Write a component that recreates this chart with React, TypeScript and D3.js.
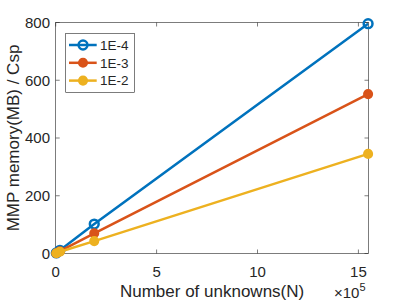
import React, { useRef, useEffect } from 'react';
import * as d3 from 'd3';

// number of unknowns N
const unknowns = [3000, 21000, 191000, 1548000];
// MMP memory (MB) / Csp per tolerance
const tol4 = [2, 11, 102, 796];
const tol3 = [1, 8, 70, 552];
const tol2 = [1, 6, 43, 345];

const seriesNames = ['1E-4', '1E-3', '1E-2'];
const seriesColors = ['#0072BD', '#D95319', '#EDB120'];
const xTicks = [0, 5e5, 10e5, 15e5];
const yTicks = [0, 200, 400, 600, 800];

const App = () => {
    const ref = useRef<SVGSVGElement>(null);

    useEffect(() => {
        const width = 407;
        const height = 305;
        const left = 55.7, right = 368.5, top = 22.5, bottom = 253.5;
        const axisColor = '#262626';
        const font = 'Liberation Sans, Arial, Helvetica, sans-serif';

        const x = d3.scaleLinear().domain([0, 15.5e5]).range([left, right]);
        const y = d3.scaleLinear().domain([0, 800]).range([bottom, top]);

        const svg = d3.select(ref.current)
            .attr('width', width)
            .attr('height', height)
            .style('font-family', font);

        svg.selectAll('*').remove();

        svg.append('rect').attr('width', width).attr('height', height).attr('fill', '#fff');

        // box
        svg.append('rect')
            .attr('x', left).attr('y', top)
            .attr('width', right - left).attr('height', bottom - top)
            .attr('fill', 'none').attr('stroke', axisColor).attr('stroke-width', 0.6);

        const tickLen = 4;
        const g = svg.append('g').attr('stroke', axisColor).attr('stroke-width', 0.6);
        xTicks.forEach(t => {
            g.append('line').attr('x1', x(t)).attr('x2', x(t)).attr('y1', bottom).attr('y2', bottom - tickLen);
            g.append('line').attr('x1', x(t)).attr('x2', x(t)).attr('y1', top).attr('y2', top + tickLen);
        });
        yTicks.forEach(t => {
            g.append('line').attr('x1', left).attr('x2', left + tickLen).attr('y1', y(t)).attr('y2', y(t));
            g.append('line').attr('x1', right).attr('x2', right - tickLen).attr('y1', y(t)).attr('y2', y(t));
        });

        svg.append('g')
            .selectAll('text')
            .data(xTicks)
            .join('text')
            .attr('x', d => x(d))
            .attr('y', 277)
            .attr('text-anchor', 'middle')
            .attr('font-size', 15)
            .attr('fill', axisColor)
            .text(d => d / 1e5);

        svg.append('g')
            .selectAll('text')
            .data(yTicks)
            .join('text')
            .attr('x', 50)
            .attr('y', d => y(d))
            .attr('dy', '0.36em')
            .attr('text-anchor', 'end')
            .attr('font-size', 15)
            .attr('fill', axisColor)
            .text(d => d);

        // exponent
        const exp = svg.append('text')
            .attr('x', 334)
            .attr('y', 298)
            .attr('font-size', 15)
            .attr('fill', axisColor);
        exp.append('tspan').text('\u00d710');
        exp.append('tspan').attr('font-size', 11).attr('dy', -7).text('5');

        svg.append('text')
            .attr('x', (left + right) / 2)
            .attr('y', 297)
            .attr('text-anchor', 'middle')
            .attr('font-size', 17)
            .attr('fill', axisColor)
            .text('Number of unknowns(N)');

        svg.append('text')
            .attr('transform', `translate(19,${(top + bottom) / 2}) rotate(-90)`)
            .attr('text-anchor', 'middle')
            .attr('font-size', 17)
            .attr('fill', axisColor)
            .text('MMP memory(MB) / Csp');

        const allSeries = [tol4, tol3, tol2];
        const line = d3.line<number>()
            .x((d, i) => x(unknowns[i]))
            .y(d => y(d));

        allSeries.forEach((vals, k) => {
            const c = seriesColors[k];
            svg.append('path')
                .datum(vals)
                .attr('d', line)
                .attr('fill', 'none')
                .attr('stroke', c)
                .attr('stroke-width', 2.5);
            svg.append('g')
                .selectAll('circle')
                .data(vals)
                .join('circle')
                .attr('cx', (d, i) => x(unknowns[i]))
                .attr('cy', d => y(d))
                .attr('r', k === 0 ? 4.4 : 3.8)
                .attr('fill', k === 0 ? 'none' : c)
                .attr('stroke', c)
                .attr('stroke-width', 2.5);
        });

        // legend
        const lg = svg.append('g');
        lg.append('rect')
            .attr('x', 65.7).attr('y', 33.3)
            .attr('width', 68.6).attr('height', 59)
            .attr('fill', '#fff').attr('stroke', axisColor).attr('stroke-width', 0.6);
        seriesNames.forEach((name, k) => {
            const ly = 45 + k * 17.8;
            const c = seriesColors[k];
            lg.append('line').attr('x1', 69).attr('x2', 96.7).attr('y1', ly).attr('y2', ly)
                .attr('stroke', c).attr('stroke-width', 2.5);
            lg.append('circle').attr('cx', 83).attr('cy', ly)
                .attr('r', k === 0 ? 4.4 : 3.8)
                .attr('fill', k === 0 ? 'none' : c)
                .attr('stroke', c).attr('stroke-width', 2.5);
            lg.append('text').attr('x', 100).attr('y', ly).attr('dy', '0.36em')
                .attr('font-size', 13.5).attr('fill', axisColor).text(name);
        });
    }, []);

    return (
        <svg ref={ref} style={{ position: 'absolute', left: 0, top: 0 }}></svg>
    );
};

export default App;
